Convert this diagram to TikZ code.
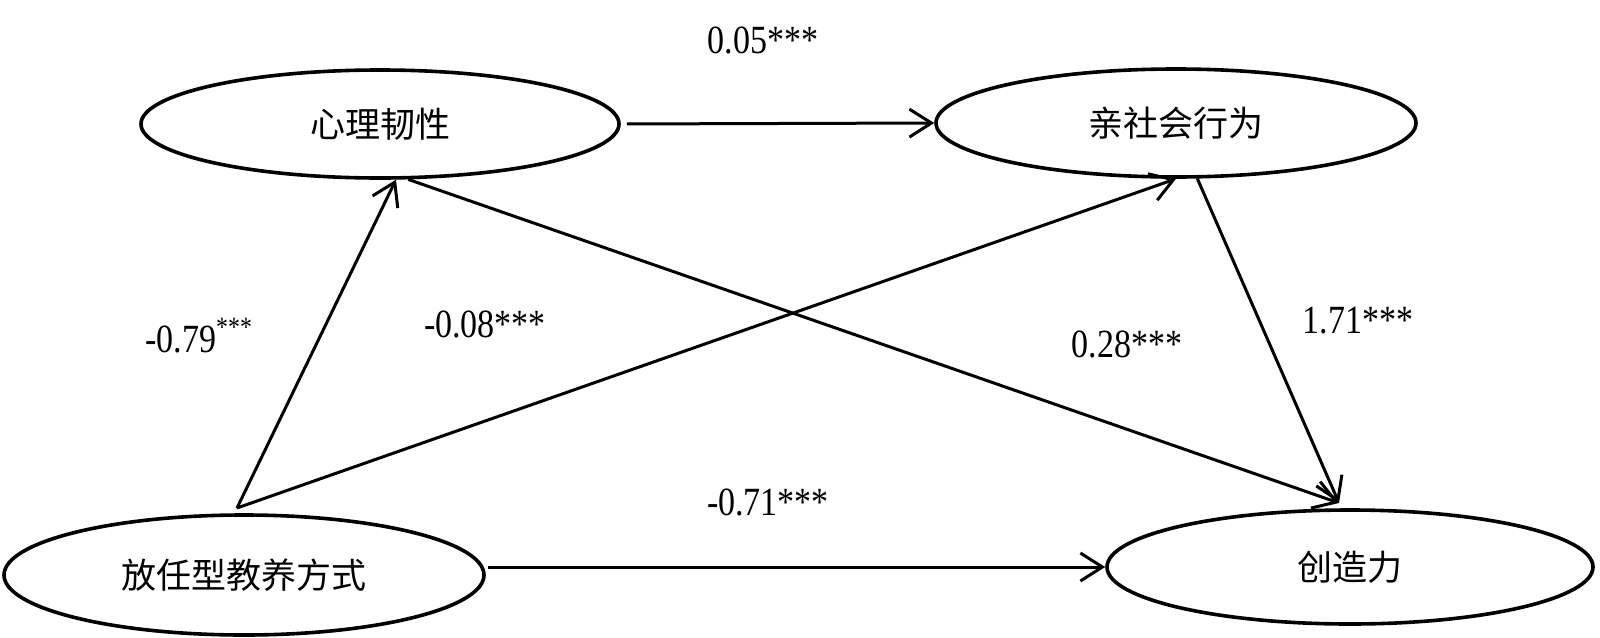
\documentclass[tikz,border=0pt]{standalone}
\usepackage{fontspec}
\usepackage{graphicx}
\setmainfont{Liberation Serif}
\newfontfamily\cjk{Noto Sans CJK SC}
\usetikzlibrary{shapes.geometric,arrows.meta}
\newcommand\cf[1]{\scalebox{0.85}[1]{#1}}
\begin{document}
\begin{tikzpicture}[x=0.5pt,y=-0.5pt,
  latent/.style={ellipse,draw,line width=1.8pt,inner sep=0pt,font=\cjk\fontsize{17.5}{20}\selectfont},
  arr/.style={line width=1.5pt,-{Straight Barb[length=11pt,width=14pt,line width=1.5pt]}},
  coef/.style={inner sep=0pt,anchor=base,font=\fontsize{20}{22}\selectfont}
]
\useasboundingbox (0,0) rectangle (1600,637);
\node[latent,minimum width=239pt,minimum height=54pt] (res) at (380,124) {心理韧性};
\node[latent,minimum width=240pt,minimum height=54pt] (pro) at (1176,123) {亲社会行为};
\node[latent,minimum width=240pt,minimum height=60pt] (lax) at (244,575) {放任型教养方式};
\node[latent,minimum width=243pt,minimum height=57pt] (cre) at (1350,567) {创造力};
\coordinate (o) at (237,508);
\coordinate (ct) at (1339,503);
\draw[arr,shorten <=3pt] (res.east) -- (pro.west);
\draw[arr] (o) -- (res.-74);
\draw[arr] (o) -- (pro.south);
\draw[arr] (res.-63) -- (ct);
\draw[arr] (pro.-69) -- (ct);
\draw[arr,shorten <=1pt] (lax.east |- cre.west) -- (cre.west);
\node[coef] (l1) at (763,54) {\cf{0.05***}};
\node[coef,anchor=base west] (l2) at (145,352) {\cf{-0.79\textsuperscript{***}}};
\node[coef] (l3) at (485,337) {\cf{-0.08***}};
\node[coef] (l4) at (1127,357) {\cf{0.28***}};
\node[coef] (l5) at (1358,333) {\cf{1.71***}};
\node[coef] (l6) at (768,515) {\cf{-0.71***}};
\end{tikzpicture}
\end{document}
